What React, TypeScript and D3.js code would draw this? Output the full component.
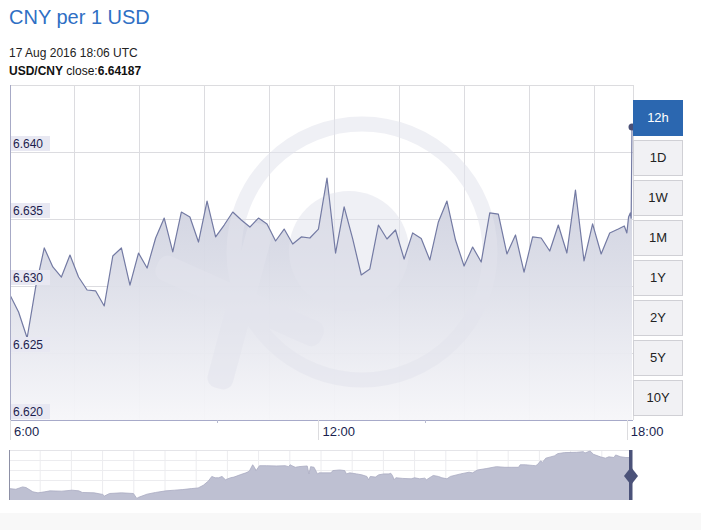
import React from "react";
import * as d3 from "d3";

// ---------- DATA ----------
const titleText = "CNY per 1 USD";
const dateText = "17 Aug 2016 18:06 UTC";
const pairText = "USD/CNY";
const closeValue = "6.64187";

// 12h series: every 10 minutes from 06:00 to 17:50 (minutes after 06:00)
const regularValues = [
  6.62933, 6.62806, 6.62612, 6.62993, 6.63284, 6.63142, 6.63067, 6.63231, 6.63067, 6.6297,
  6.62963, 6.62851, 6.63224, 6.63284, 6.63007, 6.63246, 6.63134, 6.63358, 6.63507, 6.63254,
  6.63552, 6.63515, 6.63328, 6.63634, 6.63366, 6.63455, 6.63552, 6.63493, 6.6344, 6.63507,
  6.63463, 6.63336, 6.63425, 6.63313, 6.63366, 6.63358, 6.63425, 6.63806, 6.63246, 6.6359,
  6.63351, 6.63082, 6.63127, 6.63455, 6.63351, 6.63418, 6.63201, 6.63396, 6.63354, 6.63194,
  6.63478, 6.63634, 6.63343, 6.63149, 6.63291, 6.63179, 6.63545, 6.63537, 6.63239, 6.63381,
  6.63104, 6.63366, 6.63358, 6.63261, 6.63455, 6.63246, 6.63716, 6.63187, 6.63463, 6.63239,
  6.63396, 6.63425,
];
const regularStepMinutes = 10;
// final ticks around 18:00 (minutes after 06:00)
const tailMinutes = [717, 720, 722, 724, 725, 726];
const tailValues = [6.63448, 6.63396, 6.63515, 6.63545, 6.63507, 6.64187];

const yTicks = [6.62, 6.625, 6.63, 6.635, 6.64];
const xTickMinutes = [0, 360, 720];
const xTickLabels = ["6:00", "12:00", "18:00"];
const xMinorTickMinutes = [242, 484];

const rangeButtons = ["12h", "1D", "1W", "1M", "1Y", "2Y", "5Y", "10Y"];
const activeButton = "12h";

// navigator (long range) series: day index and rate
const navDays = [
  0, 4, 8, 10, 14, 17, 21, 24, 31, 37, 41, 43, 50, 55, 56, 59, 66, 73, 75, 76, 81, 86, 92, 97, 102,
  107, 111, 114, 117, 119, 121, 123, 125, 127, 130, 132, 136, 139, 141, 143, 144, 145, 147, 151,
  157, 162, 164, 165, 166, 168, 170, 175, 176, 177, 179, 181, 182, 189, 190, 194, 197, 198, 200,
  204, 207, 210, 211, 212, 215, 217, 220, 223, 224, 225, 226, 227, 231, 236, 238, 241, 244, 245,
  248, 249, 252, 254, 257, 259, 265, 270, 272, 275, 280, 286, 291, 295, 299, 300, 303, 307, 309,
  310, 312, 313, 315, 320, 322, 326, 333, 337, 338, 341, 343, 347, 350, 352, 355, 356, 359, 362,
  365,
];
const navRates = [
  6.321, 6.314, 6.339, 6.332, 6.287, 6.276, 6.287, 6.297, 6.294, 6.304, 6.297, 6.28, 6.276, 6.259,
  6.242, 6.269, 6.276, 6.269, 6.217, 6.228, 6.262, 6.28, 6.297, 6.304, 6.311, 6.321, 6.328, 6.356,
  6.401, 6.45, 6.436, 6.436, 6.45, 6.415, 6.436, 6.443, 6.47, 6.488, 6.505, 6.574, 6.547, 6.512,
  6.564, 6.564, 6.561, 6.564, 6.554, 6.574, 6.564, 6.547, 6.554, 6.561, 6.477, 6.554, 6.547, 6.477,
  6.488, 6.488, 6.512, 6.519, 6.512, 6.477, 6.488, 6.477, 6.467, 6.45, 6.415, 6.45, 6.443, 6.467,
  6.477, 6.477, 6.484, 6.46, 6.415, 6.436, 6.429, 6.425, 6.436, 6.425, 6.432, 6.415, 6.45, 6.46,
  6.45, 6.436, 6.425, 6.45, 6.477, 6.495, 6.488, 6.519, 6.533, 6.554, 6.547, 6.547, 6.547, 6.574,
  6.574, 6.567, 6.564, 6.574, 6.616, 6.599, 6.644, 6.668, 6.692, 6.703, 6.706, 6.713, 6.699, 6.72,
  6.685, 6.658, 6.644, 6.658, 6.651, 6.678, 6.658, 6.651, 6.651,
];

// ---------- COMPONENT ----------
const FONT = "'Liberation Sans', Arial, Helvetica, sans-serif";

export default function App() {
  const W = 701;
  const H = 530;
  const plot = { left: 10, right: 632, top: 85, bottom: 420, edge: 633 };

  const points: [number, number][] = regularValues
    .map((v, i) => [i * regularStepMinutes, v] as [number, number])
    .concat(tailMinutes.map((m, i) => [m, tailValues[i]] as [number, number]));

  const x = d3.scaleLinear().domain([0, 726]).range([plot.left, plot.right]);
  const y = d3.scaleLinear().domain([6.62, 6.645]).range([plot.bottom, plot.top]);

  const line = d3
    .line<[number, number]>()
    .x((d) => x(d[0]))
    .y((d) => y(d[1]));
  const area = d3
    .area<[number, number]>()
    .x((d) => x(d[0]))
    .y0(plot.bottom)
    .y1((d) => y(d[1]));

  const nav = { left: 9, right: 631, top: 451, bottom: 500 };
  const nx = d3.scaleLinear().domain([0, 365]).range([nav.left, nav.right]);
  const ny = d3.scaleLinear().domain([6.2, 6.72]).range([nav.bottom, nav.top]);
  const navPts: [number, number][] = navDays.map((d, i) => [d, navRates[i]]);
  const navArea = d3
    .area<[number, number]>()
    .x((d) => nx(d[0]))
    .y0(nav.bottom)
    .y1((d) => ny(d[1]));
  const navLine = d3
    .line<[number, number]>()
    .x((d) => nx(d[0]))
    .y((d) => ny(d[1]));

  const vGrid = d3.range(1, 10).map((k) => 9.5 + 65 * k);
  const navVGrid = d3.range(1, 20).map((k) => nav.left + 31.2 * k);
  const navHGrid = [461, 471, 481];

  const last = points[points.length - 1];

  return (
    <svg
      width={W}
      height={H}
      style={{ position: "absolute", left: 0, top: 0, background: "#fff" }}
      fontFamily={FONT}
    >
      <defs>
        <linearGradient id="areaGrad" gradientUnits="userSpaceOnUse" x1="0" y1="130" x2="0" y2="420">
          <stop offset="0" stopColor="#c6c9da" />
          <stop offset="0.45" stopColor="#d9dbe6" />
          <stop offset="1" stopColor="#f6f6f9" />
        </linearGradient>
        <clipPath id="plotClip">
          <rect x={plot.left} y={plot.top} width={plot.edge - plot.left} height={plot.bottom - plot.top} />
        </clipPath>
      </defs>

      <rect x={0} y={0} width={W} height={H} fill="#fff" />
      <rect x={0} y={513} width={W} height={17} fill="#f8f8f8" />

      {/* Header */}
      <text x={9} y={24} fontSize={20} fill="#2f6fc4">
        {titleText}
      </text>
      <text x={9} y={57} fontSize={12} fill="#222">
        {dateText}
      </text>
      <text x={9} y={75} fontSize={12} fill="#111">
        <tspan fontWeight="bold">{pairText}</tspan>
        <tspan> close:</tspan>
        <tspan fontWeight="bold">{closeValue}</tspan>
      </text>

      {/* Grid */}
      <line x1={plot.left} x2={plot.edge} y1={plot.top + 0.5} y2={plot.top + 0.5} stroke="#dcdcdf" />
      {yTicks.slice(1).map((t) => (
        <line
          key={t}
          x1={plot.left}
          x2={plot.edge}
          y1={Math.round(y(t)) + 0.5}
          y2={Math.round(y(t)) + 0.5}
          stroke="#dcdce0"
        />
      ))}
      {vGrid.map((gx) => (
        <line key={gx} x1={gx} x2={gx} y1={plot.top} y2={plot.bottom} stroke="#dcdce0" />
      ))}
      <line x1={plot.edge + 0.5} x2={plot.edge + 0.5} y1={plot.top} y2={plot.bottom} stroke="#dcdcdf" />

      {/* Area + watermark + line */}
      <g clipPath="url(#plotClip)">
        <path d={area(points) || ""} fill="url(#areaGrad)" opacity={0.95} />
        <g fill="#e3e4ed" opacity={0.55}>
          <circle cx={362} cy={252} r={128} fill="none" stroke="#e3e4ed" strokeWidth={15} />
          <circle cx={349} cy={251} r={60} />
          <rect x={150} y={288} width={180} height={26} rx={10} transform="rotate(24 240 300)" />
          <rect x={160} y={300} width={170} height={26} rx={10} transform="rotate(-75 238 313)" />
        </g>
        <path d={line(points) || ""} fill="none" stroke="#737aa3" strokeWidth={1.2} strokeLinejoin="round" />
      </g>
      <circle cx={x(last[0])} cy={y(last[1])} r={3.5} fill="#4a5078" />

      {/* Axes lines */}
      <line x1={plot.left + 0.5} x2={plot.left + 0.5} y1={plot.top} y2={plot.bottom} stroke="#a7aac6" />
      <line x1={plot.left} x2={plot.edge} y1={plot.bottom + 0.5} y2={plot.bottom + 0.5} stroke="#a7aac9" />

      {/* Y labels */}
      {yTicks.map((t) => {
        const gy = Math.round(y(t));
        return (
          <g key={t}>
            <rect x={11} y={gy - 16} width={39} height={15} fill="#e8e8f2" />
            <text x={13} y={gy - 4} fontSize={12} fill="#1c1d4e">
              {t.toFixed(3)}
            </text>
          </g>
        );
      })}

      {/* X ticks */}
      {xTickMinutes.map((m, i) => (
        <g key={m}>
          <line
            x1={Math.round(x(m)) + 0.5}
            x2={Math.round(x(m)) + 0.5}
            y1={plot.bottom}
            y2={440}
            stroke="#dcdcdf"
          />
          <text x={x(m) + 4} y={436} fontSize={13} fill="#1a1f50">
            {xTickLabels[i]}
          </text>
        </g>
      ))}
      {xMinorTickMinutes.map((m) => (
        <line
          key={m}
          x1={Math.round(x(m)) + 0.5}
          x2={Math.round(x(m)) + 0.5}
          y1={plot.bottom}
          y2={plot.bottom + 3}
          stroke="#b8bbd0"
        />
      ))}

      {/* Range buttons */}
      {rangeButtons.map((b, i) => {
        const by = 100 + i * 40;
        const active = b === activeButton;
        return (
          <g key={b}>
            <rect
              x={633.5}
              y={by + 0.5}
              width={49}
              height={35}
              fill={active ? "#2b67b0" : "#f1f1f4"}
              stroke={active ? "#2b67b0" : "#d0d0d5"}
            />
            <text
              x={658}
              y={by + 22}
              fontSize={13}
              textAnchor="middle"
              fill={active ? "#fff" : "#222"}
            >
              {b}
            </text>
          </g>
        );
      })}

      {/* Navigator */}
      <line x1={nav.left} x2={nav.right} y1={nav.top - 0.5} y2={nav.top - 0.5} stroke="#e4e4e8" />
      {navHGrid.map((gy) => (
        <line key={gy} x1={nav.left} x2={nav.right} y1={gy - 0.5} y2={gy - 0.5} stroke="#ececef" />
      ))}
      {navVGrid.map((gx) => (
        <line key={gx} x1={gx} x2={gx} y1={nav.top} y2={nav.bottom} stroke="#ececef" />
      ))}
      <path d={navArea(navPts) || ""} fill="#bec0d2" />
      <path d={navLine(navPts) || ""} fill="none" stroke="#a9abc1" strokeWidth={0.8} />
      <line x1={nav.left + 0.5} x2={nav.left + 0.5} y1={nav.top - 1} y2={nav.bottom} stroke="#8d90a6" />
      <rect x={nav.right - 2} y={nav.top - 1} width={3.5} height={nav.bottom - nav.top + 1} fill="#4b5279" />
      <path
        d={`M${nav.right},${467} L${nav.right + 7},${476} L${nav.right},${485} L${nav.right - 7},${476} Z`}
        fill="#4b5279"
      />
    </svg>
  );
}
